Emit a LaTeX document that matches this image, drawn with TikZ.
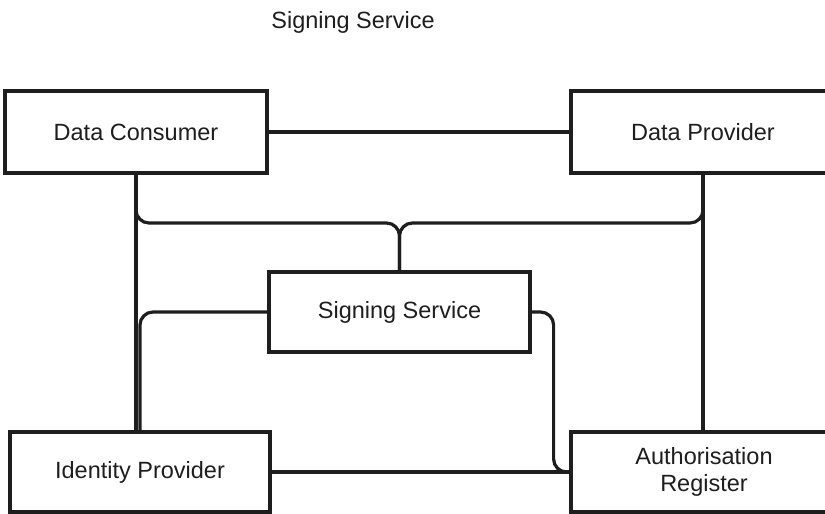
\documentclass[tikz,border=0pt]{standalone}
\usepackage{fontspec}
\setmainfont{Liberation Sans}
\definecolor{ink}{RGB}{30,30,30}
\begin{document}
\begin{tikzpicture}[x=1pt,y=-1pt,
  box/.style={draw=ink,line width=3.2pt,fill=white,rectangle,inner sep=0pt,
    text=ink,font=\fontsize{23.5}{27}\selectfont,align=center},
  conn/.style={draw=ink,line width=3.2pt,rounded corners=13pt},
  lbl/.style={text=ink,font=\fontsize{23.5}{27}\selectfont,inner sep=0pt}]
\useasboundingbox (0,0) rectangle (825,514);
\coordinate (fork) at (400,223);
\node[box,minimum width=262pt,minimum height=82pt] (dc) at (136,132) {Data Consumer};
\node[box,minimum width=264pt,minimum height=82pt] (dp) at (703,132) {Data Provider};
\node[box,minimum width=261pt,minimum height=80pt] (ss) at (399.5,312) {Signing Service};
\node[box,minimum width=260pt,minimum height=80pt] (idp) at (140,472) {Identity Provider};
\node[box,minimum width=266pt,minimum height=80pt] (ar) at (704,472) {Authorisation\\Register};
\draw[conn] (dc.east) -- (dp.west);
\draw[conn] (dc.south) -- (dc.south |- fork) -| (ss.north);
\draw[conn] (dp.south) -- (dp.south |- fork) -| (ss.north);
\draw[conn] (dc.south) -- (dc.south |- idp.north);
\draw[conn] (dp.south) -- (dp.south |- ar.north);
\draw[conn] (ss.west) -| (idp.north);
\draw[conn] (ss.east) -- ++(22,0) |- (ar.west);
\draw[conn] (idp.east) -- (ar.west);
\node[lbl,anchor=base] (title) at (353,28) {Signing Service};
\end{tikzpicture}
\end{document}
